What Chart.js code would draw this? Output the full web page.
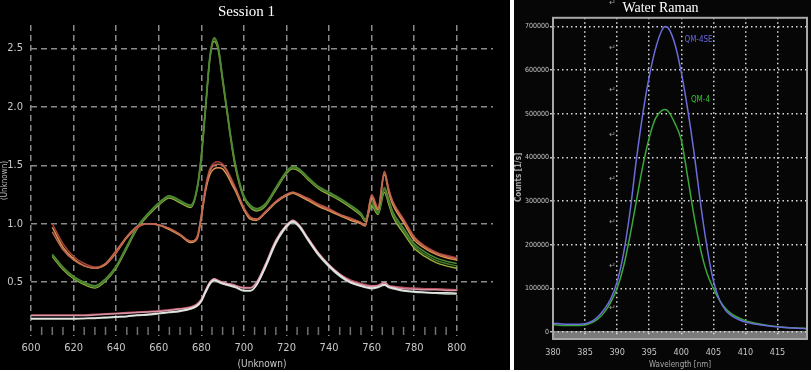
<!DOCTYPE html>
<html>
<head>
<meta charset="utf-8">
<script src="https://cdn.jsdelivr.net/npm/chart.js@4"></script>
<style>
  html, body { margin: 0; padding: 0; background: #fff; }
  body { width: 811px; height: 372px; position: relative; overflow: hidden; }
  #left { position: absolute; left: 0; top: 0; width: 510px; height: 370px; background: #000; }
  #right { position: absolute; left: 514px; top: 0; width: 297px; height: 370px; background: #060606; }
</style>
</head>
<body>
<div id="left"><canvas id="sessionChart" width="510" height="370"></canvas></div>
<div id="right"><canvas id="ramanChart" width="297" height="370"></canvas></div>
<script>
// ---- Session 1 data (wavelength vs intensity) ----
const waveL = [600,605,610,615,620,625,630,635,640,645,650,655,660,665,670,675,678,680,682,684,686,688,690,692,694,696,700,703,706,710,715,720,723,726,730,735,740,745,750,755,757,760,763,766,768,770,775,780,785,790,795,800];

const greenA1 = [null,null,0.73,0.62,0.54,0.49,0.46,0.52,0.63,0.80,0.97,1.08,1.17,1.23,1.19,1.15,1.30,1.58,2.00,2.42,2.58,2.50,2.24,1.98,1.72,1.50,1.23,1.15,1.12,1.16,1.30,1.44,1.48,1.46,1.39,1.31,1.26,1.21,1.15,1.08,1.03,1.17,1.09,1.29,1.19,1.08,0.94,0.81,0.74,0.69,0.66,0.64];
const greenA2 = [null,null,0.72,0.61,0.53,0.48,0.45,0.51,0.62,0.79,0.96,1.07,1.16,1.22,1.18,1.14,1.29,1.56,1.98,2.40,2.56,2.48,2.22,1.96,1.70,1.48,1.22,1.14,1.11,1.15,1.29,1.43,1.47,1.45,1.38,1.30,1.25,1.20,1.14,1.07,1.02,1.15,1.08,1.27,1.17,1.06,0.92,0.79,0.72,0.67,0.64,0.62];
const greenA3 = [null,null,0.74,0.63,0.55,0.50,0.47,0.53,0.64,0.81,0.98,1.09,1.18,1.24,1.20,1.16,1.31,1.59,2.01,2.43,2.59,2.51,2.25,1.99,1.73,1.51,1.24,1.16,1.13,1.17,1.31,1.45,1.49,1.47,1.40,1.32,1.27,1.22,1.16,1.09,1.04,1.19,1.10,1.31,1.21,1.10,0.96,0.83,0.76,0.71,0.68,0.66];

const redB1 = [null,null,1.00,0.83,0.72,0.66,0.63,0.66,0.76,0.89,0.97,1.00,0.99,0.96,0.91,0.85,0.89,1.08,1.32,1.47,1.52,1.53,1.51,1.46,1.39,1.31,1.14,1.06,1.04,1.10,1.19,1.25,1.27,1.25,1.22,1.17,1.13,1.08,1.05,1.01,0.99,1.25,1.14,1.45,1.30,1.19,1.04,0.89,0.81,0.76,0.73,0.71];
const orangeB2 = [null,null,0.97,0.80,0.70,0.64,0.62,0.65,0.75,0.88,0.97,1.00,0.99,0.95,0.90,0.84,0.87,1.05,1.28,1.42,1.47,1.48,1.47,1.42,1.35,1.28,1.12,1.04,1.03,1.09,1.18,1.24,1.26,1.24,1.20,1.15,1.11,1.07,1.03,1.00,0.98,1.22,1.12,1.42,1.27,1.16,1.01,0.86,0.79,0.74,0.71,0.69];
const salmonB3 = [null,null,0.93,0.78,0.69,0.64,0.62,0.66,0.77,0.89,0.98,1.00,0.99,0.96,0.91,0.85,0.88,1.07,1.30,1.45,1.50,1.51,1.50,1.45,1.37,1.30,1.13,1.05,1.04,1.10,1.19,1.25,1.27,1.25,1.21,1.16,1.12,1.08,1.04,1.01,0.99,1.24,1.13,1.44,1.29,1.18,1.03,0.88,0.80,0.75,0.72,0.70];

const whiteC1 = [0.19,0.19,0.19,0.19,0.19,0.19,0.195,0.20,0.205,0.21,0.22,0.225,0.235,0.245,0.255,0.275,0.30,0.34,0.42,0.49,0.52,0.505,0.49,0.48,0.47,0.46,0.43,0.43,0.48,0.63,0.84,0.98,1.02,0.98,0.87,0.74,0.64,0.56,0.50,0.47,0.46,0.45,0.46,0.48,0.46,0.45,0.43,0.42,0.415,0.41,0.41,0.405];
const pinkC2 = [0.215,0.215,0.215,0.215,0.215,0.215,0.22,0.225,0.23,0.235,0.24,0.245,0.25,0.26,0.27,0.285,0.31,0.35,0.43,0.50,0.53,0.515,0.50,0.49,0.48,0.47,0.45,0.45,0.50,0.65,0.86,0.99,1.03,0.99,0.88,0.75,0.65,0.57,0.51,0.48,0.47,0.465,0.47,0.50,0.47,0.46,0.445,0.44,0.435,0.435,0.43,0.43];
const roseC3 = [0.22,0.22,0.22,0.22,0.22,0.22,0.225,0.23,0.235,0.24,0.245,0.25,0.255,0.265,0.275,0.29,0.315,0.355,0.43,0.50,0.525,0.51,0.50,0.49,0.485,0.475,0.455,0.455,0.50,0.64,0.85,0.99,1.02,0.98,0.88,0.75,0.65,0.57,0.52,0.49,0.48,0.47,0.475,0.49,0.47,0.465,0.455,0.45,0.445,0.445,0.44,0.435];
const paleC4 = [0.185,0.185,0.185,0.185,0.185,0.19,0.19,0.195,0.20,0.205,0.215,0.22,0.23,0.24,0.25,0.27,0.295,0.335,0.41,0.48,0.515,0.50,0.485,0.475,0.465,0.455,0.425,0.425,0.475,0.62,0.83,0.97,1.01,0.97,0.86,0.73,0.63,0.55,0.495,0.465,0.455,0.445,0.455,0.475,0.455,0.445,0.425,0.415,0.41,0.405,0.40,0.40];

const xTicksL = [600,620,640,660,680,700,720,740,760,780,800];
const yTicksL = [0.5,1.0,1.5,2.0,2.5];

// ---- Water Raman data ----
const waveR = [380,382,384,385,386,387,388,389,390,391,392,393,394,395,396,397,397.5,398,399,400,401,402,403,404,405,406,407,408,409,410,412,414,416,418,419.5];
const qm4se = [20000,18000,18000,19000,24000,35000,52000,76000,115000,180000,275000,395000,500000,585000,650000,692000,700000,696000,660000,595000,510000,410000,295000,195000,118000,72000,48000,36000,28000,23000,17000,13000,10000,8500,7500];
const qm4 = [17000,15000,15000,16000,21000,30000,45000,68000,100000,150000,220000,300000,380000,445000,490000,508000,510000,505000,478000,440000,355000,265000,190000,135000,100000,72000,52000,40000,32000,26000,19000,14000,11000,9000,8000];

const xTicksR = [380,385,390,395,400,405,410,415];
const yTicksR = [0,100000,200000,300000,400000,500000,600000,700000];
const returnMarkY = [754000,651000,555000,452000,351000,252000,151000,55000];

const narrow = '"Liberation Sans Narrow", "DejaVu Sans Condensed", "Liberation Sans", sans-serif';
const serif = '"Liberation Serif", "DejaVu Serif", serif';

function toPoints(xs, ys) {
    return xs.map((x, i) => ({ x: x, y: ys[i] }));
}

function lineSet(label, ys, color) {
    return {
        label: label,
        data: toPoints(waveL, ys),
        borderColor: color,
        borderWidth: 1.5,
        pointRadius: 0,
        cubicInterpolationMode: 'monotone'
    };
}

// petits traits de graduation entre les valeurs principales
const minorTicks = {
    id: 'minorTicks',
    beforeDatasetsDraw(chart) {
        const xs = chart.scales.x;
        const area = chart.chartArea;
        const ctx = chart.ctx;
        ctx.save();
        ctx.strokeStyle = '#707070';
        ctx.lineWidth = 1.5;
        for (let v = xs.min; v <= 800; v += 5) {
            if (xTicksL.includes(v)) continue;
            const px = xs.getPixelForValue(v);
            ctx.beginPath();
            ctx.moveTo(px, area.bottom - 9);
            ctx.lineTo(px, area.bottom - 1);
            ctx.stroke();
        }
        ctx.restore();
    }
};

new Chart(document.getElementById('sessionChart'), {
    type: 'line',
    data: {
        datasets: [
            lineSet('C1', whiteC1, '#e6e6e6'),
            lineSet('C4', paleC4, '#b8ccb8'),
            lineSet('C2', pinkC2, '#d894a4'),
            lineSet('C3', roseC3, '#b85060'),
            lineSet('B3', salmonB3, '#c06a54'),
            lineSet('B1', redB1, '#a8403a'),
            lineSet('B2', orangeB2, '#e0984c'),
            lineSet('A3', greenA3, '#4e8a34'),
            lineSet('A1', greenA1, '#3f7a2a'),
            lineSet('A2', greenA2, '#9aae3c')
        ]
    },
    options: {
        responsive: false,
        animation: false,
        devicePixelRatio: 1,
        layout: { padding: { right: 17 } },
        plugins: {
            legend: { display: false },
            tooltip: { enabled: false },
            title: {
                display: true,
                text: 'Session 1',
                color: '#ffffff',
                font: { family: serif, size: 15, weight: 'normal' },
                padding: { top: 3, bottom: 4 }
            }
        },
        scales: {
            x: {
                type: 'linear',
                min: 600,
                max: 817,
                afterBuildTicks: (s) => { s.ticks = xTicksL.map(v => ({ value: v })); },
                afterFit: (s) => { s.height = 34; },
                grid: { color: '#8a8a8a', lineWidth: 1.5, drawTicks: false },
                border: { display: false, dash: [6, 4] },
                ticks: { color: '#c8c8c8', font: { family: narrow, size: 11 }, padding: 6, maxRotation: 0 },
                title: { display: true, text: '(Unknown)', color: '#c8c8c8', font: { family: narrow, size: 10 }, padding: { top: 0, bottom: 0 } }
            },
            y: {
                min: 0.04,
                max: 2.7,
                afterBuildTicks: (s) => { s.ticks = yTicksL.map(v => ({ value: v })); },
                afterFit: (s) => { s.width = 31; },
                grid: { color: '#8a8a8a', lineWidth: 1.5, drawTicks: false },
                border: { display: false, dash: [6, 4] },
                ticks: { color: '#c8c8c8', font: { family: narrow, size: 11 }, padding: 8, callback: (v) => v.toFixed(1) },
                title: { display: true, text: '(Unknown)', color: '#b8b8b8', font: { family: narrow, size: 8 }, padding: { top: 0, bottom: 0 } }
            }
        }
    },
    plugins: [minorTicks]
});

// cadre gris, bande de l'axe et annotations du graphique Raman
const ramanDecor = {
    id: 'ramanDecor',
    beforeDraw(chart) {
        const a = chart.chartArea;
        const ctx = chart.ctx;
        const y0 = chart.scales.y.getPixelForValue(0);
        ctx.save();
        ctx.fillStyle = '#7a7a7a';
        ctx.fillRect(a.left, y0 - 1, a.right - a.left, a.bottom - y0 + 3);
        ctx.restore();
    },
    afterDraw(chart) {
        const a = chart.chartArea;
        const ctx = chart.ctx;
        const xs = chart.scales.x;
        const ys = chart.scales.y;
        ctx.save();
        ctx.strokeStyle = '#a8a8a8';
        ctx.lineWidth = 2;
        ctx.strokeRect(a.left, a.top, a.right - a.left, a.bottom - a.top + 2);
        ctx.font = '8px ' + narrow;
        ctx.textBaseline = 'middle';
        ctx.fillStyle = '#6868e0';
        ctx.fillText('QM-4SE', xs.getPixelForValue(400.5), ys.getPixelForValue(670000));
        ctx.fillStyle = '#34c034';
        ctx.fillText('QM-4', xs.getPixelForValue(401.5), ys.getPixelForValue(532000));
        ctx.fillStyle = '#9a9a9a';
        ctx.font = '8px "DejaVu Sans", sans-serif';
        ctx.textAlign = 'center';
        for (const v of returnMarkY) {
            ctx.fillText('\u21B5', xs.getPixelForValue(389.3), ys.getPixelForValue(v));
        }
        ctx.restore();
    }
};

new Chart(document.getElementById('ramanChart'), {
    type: 'line',
    data: {
        datasets: [
            {
                label: 'QM-4SE',
                data: toPoints(waveR, qm4se),
                borderColor: '#6c6cdc',
                borderWidth: 1.5,
                pointRadius: 0,
                cubicInterpolationMode: 'monotone'
            },
            {
                label: 'QM-4',
                data: toPoints(waveR, qm4),
                borderColor: '#3aa83a',
                borderWidth: 1.5,
                pointRadius: 0,
                cubicInterpolationMode: 'monotone'
            }
        ]
    },
    options: {
        responsive: false,
        animation: false,
        devicePixelRatio: 1,
        layout: { padding: { right: 4 } },
        plugins: {
            legend: { display: false },
            tooltip: { enabled: false },
            title: {
                display: true,
                text: 'Water Raman',
                color: '#ffffff',
                font: { family: serif, size: 14, weight: 'normal' },
                padding: { top: 0, bottom: 1 }
            }
        },
        scales: {
            x: {
                type: 'linear',
                min: 380,
                max: 419.6,
                afterBuildTicks: (s) => { s.ticks = xTicksR.map(v => ({ value: v })); },
                afterFit: (s) => { s.height = 33; },
                grid: { color: '#dcdcdc', lineWidth: 1.5, drawTicks: false },
                border: { display: false, dash: [1.5, 3] },
                ticks: { color: '#c4c4c4', font: { family: narrow, size: 9 }, padding: 10, maxRotation: 0 },
                title: { display: true, text: 'Wavelength [nm]', color: '#a8a8a8', font: { family: narrow, size: 8 }, padding: { top: 0, bottom: 0 } }
            },
            y: {
                min: -11500,
                max: 720000,
                afterBuildTicks: (s) => { s.ticks = yTicksR.map(v => ({ value: v })); },
                afterFit: (s) => { s.width = 39; },
                grid: { color: '#dcdcdc', lineWidth: 1.5, drawTicks: true, tickLength: 3, tickColor: '#bbbbbb' },
                border: { display: false, dash: [1.5, 3] },
                ticks: { color: '#c4c4c4', font: { family: narrow, size: 7 }, padding: 1, callback: (v) => String(v) },
                title: { display: true, text: 'Counts [1/s]', color: '#a8a8a8', font: { family: narrow, size: 8, weight: 'bold' }, padding: { top: 0, bottom: 0 } }
            }
        }
    },
    plugins: [ramanDecor]
});
</script>
</body>
</html>
